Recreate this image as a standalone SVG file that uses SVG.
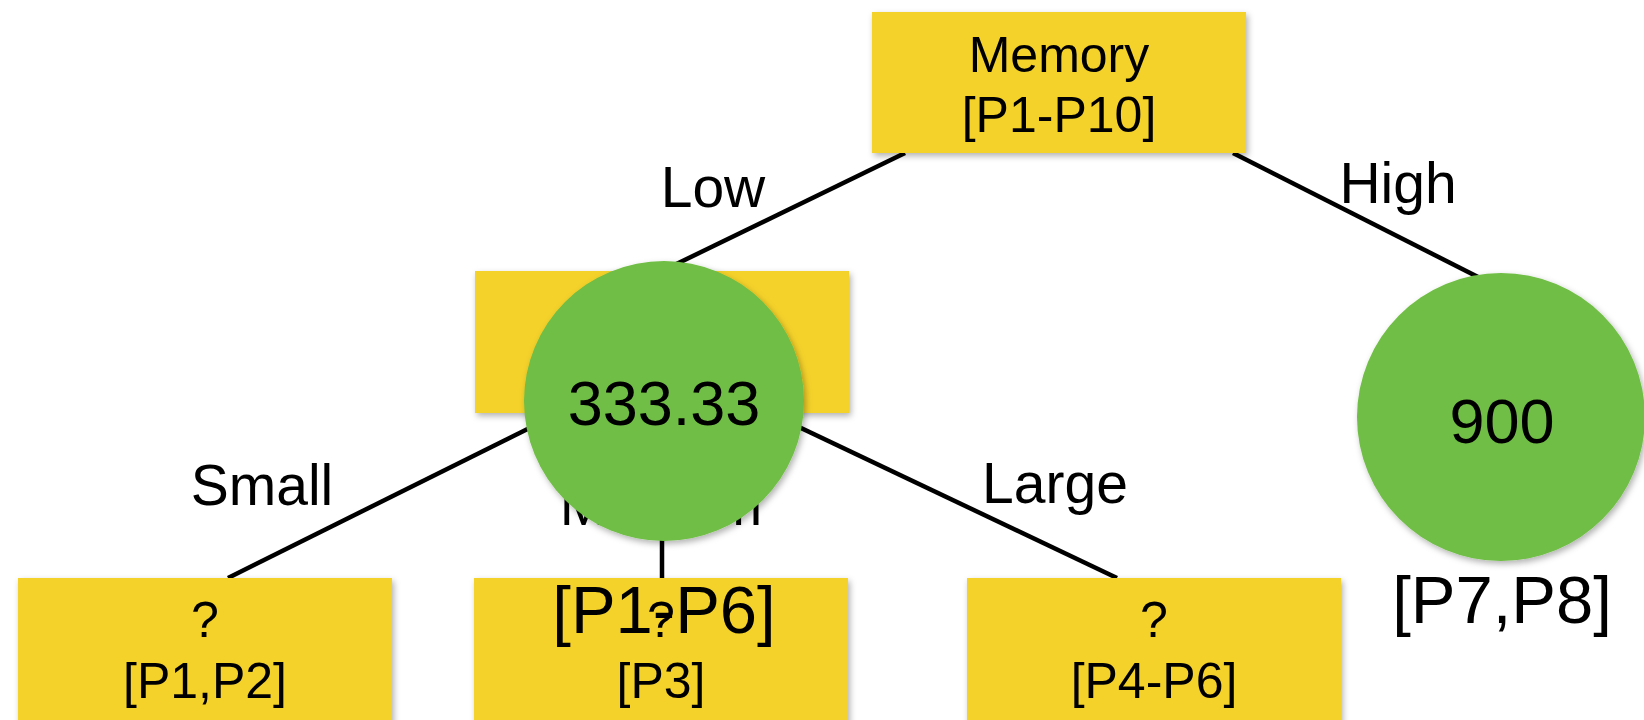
<svg xmlns="http://www.w3.org/2000/svg" width="1644" height="720" viewBox="0 0 1644 720">
  <defs>
    <filter id="shadow" x="-10%" y="-10%" width="125%" height="130%">
      <feDropShadow dx="2" dy="3" stdDeviation="3" flood-color="#000" flood-opacity="0.3"/>
    </filter>
    <style>
      .box { fill: #F5D22A; filter: url(#shadow); }
      .leaf { fill: #6FBE44; filter: url(#shadow); }
      .edge { stroke: #000; stroke-width: 4.5; fill: none; }
      text { font-family: "Liberation Sans", Arial, sans-serif; fill: #000; text-anchor: middle; }
      .t50 { font-size: 50px; }
      .t57 { font-size: 57px; }
      .t64 { font-size: 63px; }
      .t67 { font-size: 67px; }
    </style>
  </defs>

  <!-- connectors -->
  <g id="connectors">
    <line class="edge" x1="905" y1="153" x2="662" y2="271"/>
    <line class="edge" x1="1233" y1="153" x2="1480" y2="278"/>
    <line class="edge" x1="662" y1="362" x2="228" y2="578"/>
    <line class="edge" x1="662" y1="401" x2="662" y2="578"/>
    <line class="edge" x1="662" y1="362" x2="1117" y2="578"/>
  </g>

  <!-- branch labels -->
  <g id="edge-labels">
    <text class="t57" x="713" y="207">Low</text>
    <text class="t57" x="1398" y="203">High</text>
    <text class="t57" x="262" y="505">Small</text>
    <text class="t57" x="661" y="525">Medium</text>
    <text class="t57" x="1055" y="503">Large</text>
  </g>

  <!-- split on memory -->
  <g id="node-memory">
    <rect class="box" x="872" y="12" width="374" height="141"/>
    <text class="t50" x="1059" y="72">Memory</text>
    <text class="t50" x="1059" y="132">[P1-P10]</text>
  </g>

  <!-- split on size (low memory) -->
  <g id="node-size">
    <rect class="box" x="475" y="271" width="374" height="142"/>
  </g>

  <!-- size subsets -->
  <g id="node-small">
    <rect class="box" x="18" y="578" width="374" height="150"/>
    <text class="t50" x="205" y="637">?</text>
    <text class="t50" x="205" y="698">[P1,P2]</text>
  </g>
  <g id="node-medium">
    <rect class="box" x="474" y="578" width="374" height="150"/>
    <text class="t50" x="661" y="637">?</text>
    <text class="t50" x="661" y="698">[P3]</text>
  </g>
  <g id="node-large">
    <rect class="box" x="967" y="578" width="374" height="150"/>
    <text class="t50" x="1154" y="637">?</text>
    <text class="t50" x="1154" y="698">[P4-P6]</text>
  </g>

  <!-- predicted values -->
  <g id="leaf-low">
    <circle class="leaf" cx="664" cy="401" r="140"/>
    <text class="t64" x="664" y="425">333.33</text>
    <text class="t67" x="664" y="633">[P1-P6]</text>
  </g>
  <g id="leaf-high">
    <circle class="leaf" cx="1501" cy="417" r="144"/>
    <text class="t64" x="1502" y="443">900</text>
    <text class="t67" x="1502" y="623">[P7,P8]</text>
  </g>
</svg>
